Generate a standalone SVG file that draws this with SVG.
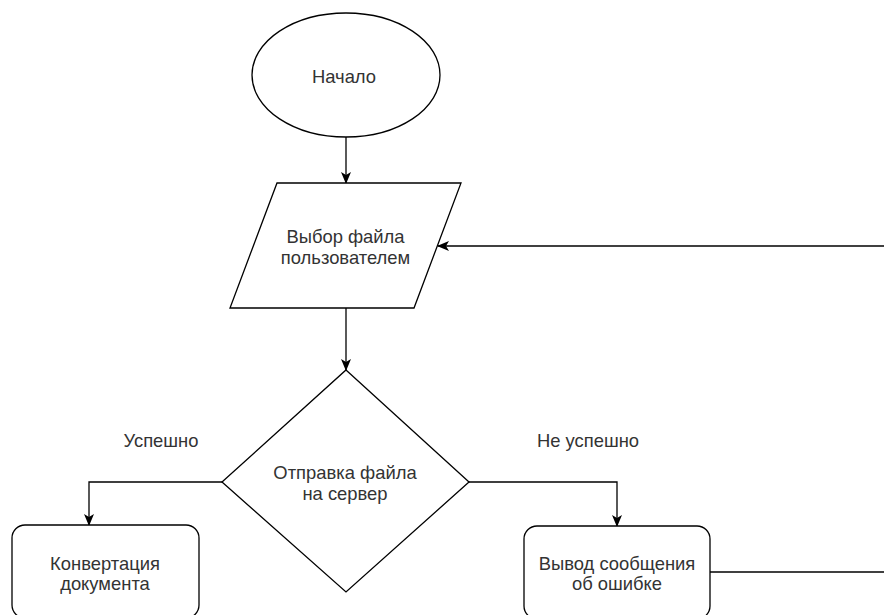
<svg xmlns="http://www.w3.org/2000/svg" width="884" height="615" viewBox="0 0 884 615">
  <style>
    .shape { fill: #ffffff; stroke: #000000; stroke-width: 1.3; }
    .edge { fill: none; stroke: #000000; stroke-width: 1.3; }
    .label { font-family: "Liberation Sans", Arial, Helvetica, sans-serif; font-size: 18.4px; fill: #333333; text-anchor: middle; }
  </style>
  <defs>
    <marker id="arrow" viewBox="0 0 12 10" refX="11" refY="5" markerWidth="12" markerHeight="10" markerUnits="userSpaceOnUse" orient="auto">
      <path d="M0,0 L12,5 L0,10 L3,5 Z" fill="#000000"/>
    </marker>
  </defs>
  <rect width="884" height="615" fill="#ffffff"/>

  <g id="connectors">
    <path class="edge" d="M346,137 L346,183" marker-end="url(#arrow)"/>
    <path class="edge" d="M346,308 L346,370" marker-end="url(#arrow)"/>
    <path class="edge" d="M222,482 L89,482 L89,525" marker-end="url(#arrow)"/>
    <path class="edge" d="M469,482 L617,482 L617,526" marker-end="url(#arrow)"/>
    <path class="edge" d="M710,572 L884,572"/>
    <path class="edge" d="M884,246 L438,246" marker-end="url(#arrow)"/>
  </g>

  <g id="start">
    <ellipse class="shape" cx="346" cy="75" rx="94" ry="62"/>
    <text class="label" x="344" y="83">Начало</text>
  </g>

  <g id="select-file">
    <polygon class="shape" points="277,183 461,183 414,308 230,308"/>
    <text class="label" x="345.5" y="243">Выбор файла</text>
    <text class="label" x="345.5" y="264">пользователем</text>
  </g>

  <g id="upload">
    <polygon class="shape" points="346,370 469,482 346,592 222,482"/>
    <text class="label" x="345" y="479">Отправка файла</text>
    <text class="label" x="345" y="500">на сервер</text>
  </g>

  <g id="label-success">
    <text class="label" x="161" y="447">Успешно</text>
  </g>

  <g id="label-fail">
    <text class="label" x="588" y="447">Не успешно</text>
  </g>

  <g id="convert">
    <rect class="shape" x="12" y="525" width="187" height="93" rx="13" ry="13"/>
    <text class="label" x="105" y="570">Конвертация</text>
    <text class="label" x="105" y="590">документа</text>
  </g>

  <g id="error-message">
    <rect class="shape" x="524" y="526" width="186" height="93" rx="13" ry="13"/>
    <text class="label" x="617" y="570">Вывод сообщения</text>
    <text class="label" x="617" y="590">об ошибке</text>
  </g>
</svg>
